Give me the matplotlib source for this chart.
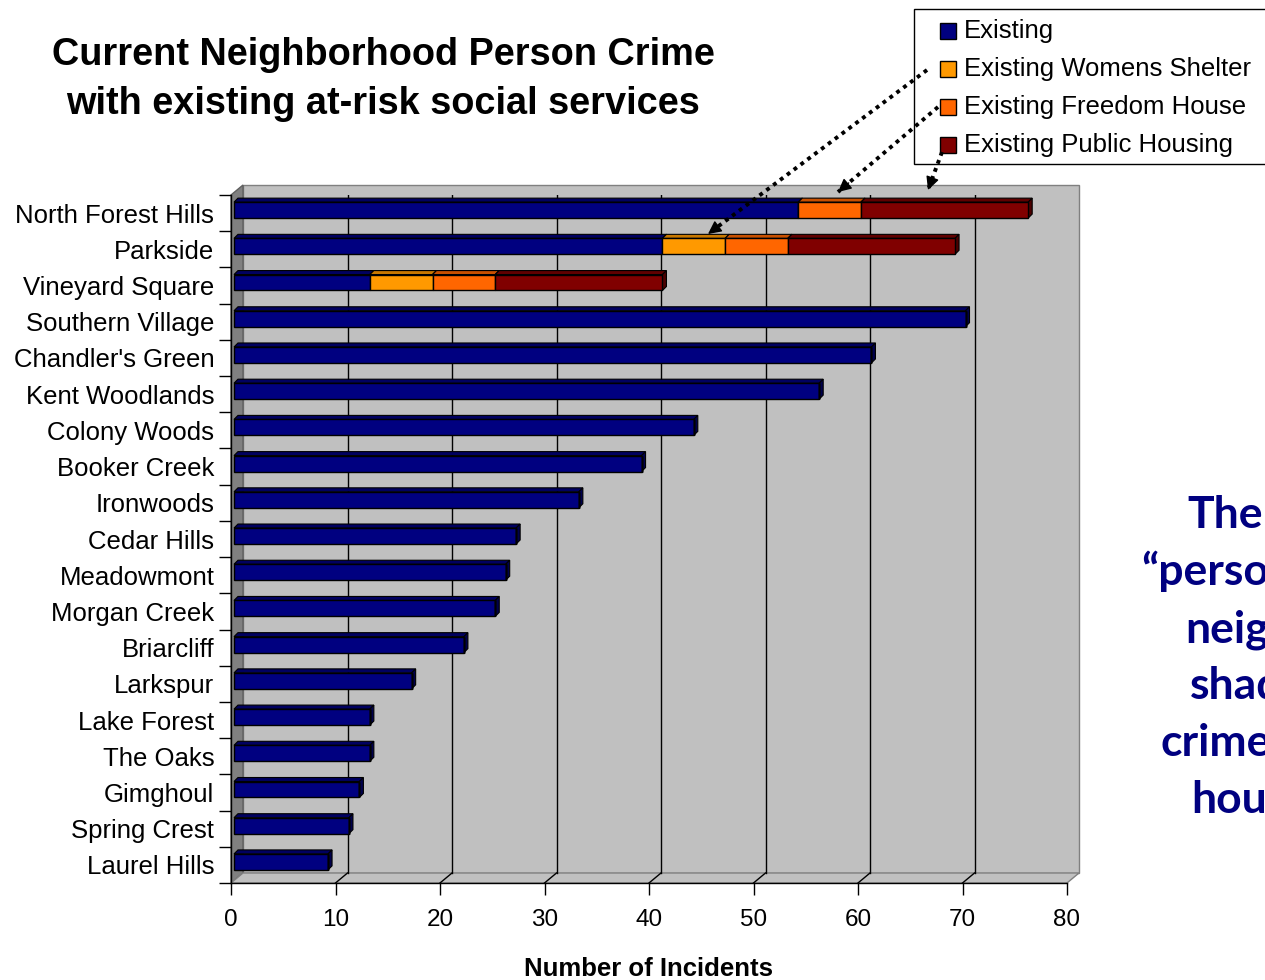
import matplotlib.pyplot as plt
import numpy as np
from matplotlib.patches import Polygon, Rectangle, FancyArrowPatch
from matplotlib.lines import Line2D
from matplotlib.transforms import ScaledTranslation, IdentityTransform

plt.rcParams['font.family'] = ['Liberation Sans', 'DejaVu Sans']

# data (number of incidents)
neighborhoods = ["North Forest Hills", "Parkside", "Vineyard Square", "Southern Village",
                 "Chandler's Green", "Kent Woodlands", "Colony Woods", "Booker Creek",
                 "Ironwoods", "Cedar Hills", "Meadowmont", "Morgan Creek", "Briarcliff",
                 "Larkspur", "Lake Forest", "The Oaks", "Gimghoul", "Spring Crest",
                 "Laurel Hills"]
existing = [54, 41, 13, 70, 61, 56, 44, 39, 33, 27, 26, 25, 22, 17, 13, 13, 12, 11, 9]
womens_shelter = [0, 6, 6, 0, 0, 0, 0, 0, 0, 0, 0, 0, 0, 0, 0, 0, 0, 0, 0]
freedom_house = [6, 6, 6, 0, 0, 0, 0, 0, 0, 0, 0, 0, 0, 0, 0, 0, 0, 0, 0]
public_housing = [16, 16, 16, 0, 0, 0, 0, 0, 0, 0, 0, 0, 0, 0, 0, 0, 0, 0, 0]
series_names = ["Existing", "Existing Womens Shelter", "Existing Freedom House",
                "Existing Public Housing"]
x_ticks = [0, 10, 20, 30, 40, 50, 60, 70, 80]

colors = ["#000080", "#FF9900", "#FF6600", "#800000"]
top_colors = ["#000060", "#C87800", "#C85000", "#600000"]
side_colors = ["#00004C", "#A86400", "#A84000", "#4C0000"]

W, H = 1265, 980
fig = plt.figure(figsize=(W / 100, H / 100), dpi=100)
ax = fig.add_axes([231 / W, 1 - 883 / H, (1067 - 231) / W, (883 - 195) / H])
n = len(neighborhoods)
ax.set_xlim(0, 80)
ax.set_ylim(n - 0.5, -0.5)
ax.patch.set_visible(False)

DX, DY = 12, 10   # depth of the 3d box, pixels
BD = 4            # depth of the bars, pixels
BO = 3            # bars sit a little inside the box


def px(x, y):
    return ax.transData.transform((x, y))


def poly(pts, **kw):
    p = Polygon(pts, closed=True, transform=IdentityTransform(), clip_on=False, **kw)
    ax.add_artist(p)


# walls and floor
bl, br = px(0, n - 0.5), px(80, n - 0.5)
tl, tr = px(0, -0.5), px(80, -0.5)
d = np.array([DX, DY])
poly([bl + d, br + d, tr + d, tl + d], fc="#C0C0C0", ec="#808080", lw=1, zorder=0)
poly([bl, bl + d, tl + d, tl], fc="#808080", ec="#606060", lw=1, zorder=0.1)
poly([bl, br, br + d, bl + d], fc="#C0C0C0", ec="#808080", lw=1, zorder=0.1)
for xv in x_ticks[1:]:
    b, t = px(xv, n - 0.5), px(xv, -0.5)
    c = "black" if xv < 80 else "#808080"
    ax.add_artist(Line2D([b[0] + DX, t[0] + DX], [b[1] + DY, t[1] + DY],
                         transform=IdentityTransform(), color=c, lw=1, zorder=0.5))
    ax.add_artist(Line2D([b[0], b[0] + DX], [b[1], b[1] + DY],
                         transform=IdentityTransform(), color=c, lw=1, zorder=0.5))

# stacked bars with a bit of 3d
bar_trans = ax.transData + ScaledTranslation(BO / 100, BO / 100, fig.dpi_scale_trans)
series = [existing, womens_shelter, freedom_house, public_housing]
y = np.arange(n)
left = np.zeros(n)
bh = 0.44
for k, vals in enumerate(series):
    vals = np.array(vals, dtype=float)
    bars = ax.barh(y, vals, left=left, height=bh, color=colors[k], edgecolor="black",
                   linewidth=1, zorder=3, transform=bar_trans, label=series_names[k])
    for i, v in enumerate(vals):
        if v <= 0:
            continue
        x0, y0 = bar_trans.transform((left[i], y[i] + bh / 2))
        x1, y1 = bar_trans.transform((left[i] + v, y[i] - bh / 2))
        poly([(x0, y1), (x1, y1), (x1 + BD, y1 + BD), (x0 + BD, y1 + BD)],
             fc=top_colors[k], ec="black", lw=0.8, zorder=2)
        poly([(x1, y0), (x1, y1), (x1 + BD, y1 + BD), (x1 + BD, y0 + BD)],
             fc=side_colors[k], ec="black", lw=0.8, zorder=2)
    left += vals

# axes
for s in ["top", "right"]:
    ax.spines[s].set_visible(False)
for s in ["left", "bottom"]:
    ax.spines[s].set_color("black")
    ax.spines[s].set_linewidth(1)
ax.set_yticks(y)
ax.set_yticklabels(neighborhoods, fontsize=18.5)
ax.set_yticks(np.arange(-0.5, n, 1), minor=True)
ax.tick_params(axis="y", which="major", length=0, pad=12)
ax.tick_params(axis="y", which="minor", length=8.6, width=1, direction="out")
ax.set_xticks(x_ticks)
ax.tick_params(axis="x", labelsize=17.5, length=8.6, width=1, direction="out", pad=10)

fig.text(649 / W, 1 - 969 / H, "Number of Incidents", ha="center", va="center",
         fontsize=18.5, fontweight="bold")

# title
fig.text(383 / W, 1 - 55 / H, "Current Neighborhood Person Crime", ha="center",
         va="center", fontsize=27.3, fontweight="bold")
fig.text(383 / W, 1 - 104 / H, "with existing at-risk social services", ha="center",
         va="center", fontsize=27.3, fontweight="bold")

# legend box, runs off the right edge
fig.add_artist(Rectangle((914 / W, 1 - 164 / H), 400 / W, 155 / H, transform=fig.transFigure,
                         fc="white", ec="black", lw=1, zorder=5))
for k, (name, yc) in enumerate(zip(series_names, [31, 69, 107, 145])):
    fig.add_artist(Rectangle((940 / W, 1 - (yc + 8) / H), 16 / W, 16 / H,
                             transform=fig.transFigure, fc=colors[k], ec="black",
                             lw=1, zorder=6))
    fig.text(964 / W, 1 - yc / H, name, va="center", ha="left", fontsize=18.5, zorder=6)

# dotted arrows from legend to bars
arrows = [((927, 70), (708, 234)), ((938, 107), (838, 192)), ((942, 152), (928, 190))]
for (sx, sy), (ex, ey) in arrows:
    sx, sy, ex, ey = sx / W, 1 - sy / H, ex / W, 1 - ey / H
    fig.add_artist(Line2D([sx, ex], [sy, ey], transform=fig.transFigure, color="black",
                          lw=2.8, linestyle=(0, (1, 1.2)), zorder=7))
    vx, vy = (ex - sx) * W, (ey - sy) * H
    L = np.hypot(vx, vy)
    ax_ = ex - vx / L * 14 / W
    ay_ = ey - vy / L * 14 / H
    fig.add_artist(FancyArrowPatch((ax_, ay_), (ex, ey), transform=fig.transFigure,
                                   arrowstyle="-|>", mutation_scale=20, color="black",
                                   lw=1, shrinkA=0, shrinkB=0, zorder=7))

# side note, cut off by the page edge as in the original slide
note = ["The", "\u201cperson", "neighborhoods", "shaded", "crime", "housing"]
note_x = [1187, 1141, 1185, 1190, 1160, 1191]
for j, (word, xs) in enumerate(zip(note, note_x)):
    fig.text(xs / W, 1 - (528 + 57 * j) / H, word, ha="left", va="baseline",
             fontsize=32, fontweight="bold", color="#000080", family=["Lato", "DejaVu Sans"])

fig.savefig("out.png", dpi=100)
